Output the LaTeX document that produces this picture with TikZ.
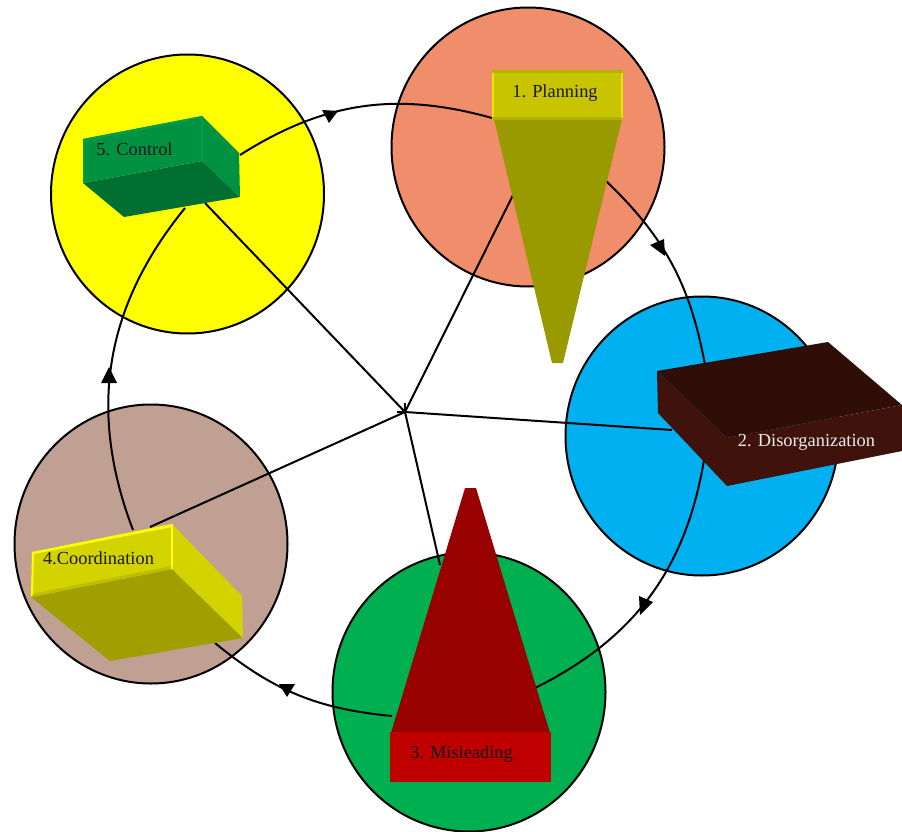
\documentclass[tikz,border=0pt]{standalone}
\usepackage{fontspec}
\setmainfont{Liberation Serif}
\usetikzlibrary{shapes.geometric, positioning, calc}

\definecolor{planfront}{HTML}{C8C400}
\definecolor{planedge}{HTML}{E8E600}
\definecolor{plancone}{HTML}{999900}
\definecolor{distop}{HTML}{300E08}
\definecolor{disside}{HTML}{40120C}
\definecolor{misfront}{HTML}{C00000}
\definecolor{miscone}{HTML}{990000}
\definecolor{cofront}{HTML}{D3D300}
\definecolor{coedge}{HTML}{FFFF00}
\definecolor{cobottom}{HTML}{A09E00}
\definecolor{ctfront}{HTML}{009242}
\definecolor{ctedge}{HTML}{00A04A}
\definecolor{ctbottom}{HTML}{006F31}
\definecolor{ctrlfill}{HTML}{FFFF00}

\tikzset{
  stage/.style={draw=black, line width=2pt, ellipse, minimum width=273pt, minimum height=279pt, inner sep=0pt},
  link/.style={draw=black, line width=2pt},
  head/.style={fill=black},
  tag/.style={font=\fontsize{18.4}{22}\selectfont, inner sep=0pt}
}

\begin{document}
\begin{tikzpicture}[x=1pt, y=-1pt]
\useasboundingbox (0,0) rectangle (902,832);

% Stage circles
\node[stage, fill={rgb,255:red,240;green,141;blue,107}] (plan) at (528,147) {};
\node[stage, fill={rgb,255:red,0;green,176;blue,240}] (dis) at (702,436) {};
\node[stage, fill={rgb,255:red,0;green,176;blue,80}] (mis) at (469,692) {};
\node[stage, fill={rgb,255:red,192;green,160;blue,147}] (coord) at (151,544) {};
\node[stage, fill=ctrlfill] (ctrl) at (187.5,194) {};

% Spokes
\coordinate (hub) at (405,412);
\coordinate (sp1) at (513,195);
\coordinate (sp2) at (672,430);
\coordinate (sp3) at (440,565);
\coordinate (sp4) at (150,527);
\coordinate (sp5) at (205,203);
\draw[link] (hub) -- (sp1);
\draw[link] (hub) -- (sp2);
\draw[link] (hub) -- (sp3);
\draw[link] (hub) -- (sp4);
\draw[link] (hub) -- (sp5);
\draw[link] (hub) -- ++(0,-9);
\draw[link] (hub) -- ++(-8,0);

% Outer ring, one arc per step
\coordinate (a1) at (240,155);
\coordinate (b1) at (492,118);
\draw[link] (a1) to[bend left=24] (b1);
\fill[head] (322,110) -- (338,111) -- (329,123) -- cycle;

\coordinate (a2) at (605,180);
\coordinate (b2) at (705,365);
\draw[link] (a2) to[bend left=18] (b2);
\fill[head] (650,245) -- (664,239) -- (665,256) -- cycle;

\coordinate (a3) at (704,460);
\coordinate (b3) at (535,688);
\draw[link] (a3) to[bend left=27] (b3);
\fill[head] (639,596) -- (653,602) -- (640,615) -- cycle;

\coordinate (a4) at (392,716);
\coordinate (b4) at (215,643);
\draw[link] (a4) to[bend left=17] (b4);
\fill[head] (279,684) -- (295,684) -- (287,697) -- cycle;

\coordinate (a5) at (133,530);
\coordinate (b5) at (185,208);
\draw[link] (a5) to[bend left=30] (b5);
\fill[head] (109,367) -- (117,383) -- (101,383) -- cycle;

% 1. cone with box on top
\fill[plancone] (494,119) -- (622,119) -- (563,363) -- (552,363) -- cycle;
\fill[planfront] (492,70) rectangle (623,120);
\fill[planedge] (492,70) rectangle (494,118);
\fill[planedge] (621,70) rectangle (623,118);
\fill[planfront!90!black] (492,70) rectangle (623,73);
\fill[planfront!90!black] (493,117) rectangle (622,120);
\node[tag, text=black!90] (plantag) at (555,93.5) {1. Planning};

% 2. flat slab
\fill[distop] (657,371) -- (828,342) -- (902,405) -- (902,405) -- (727,438) -- cycle;
\fill[disside] (657,371) -- (727,438) -- (727,486) -- (658,413) -- cycle;
\fill[disside] (727,438) -- (902,405) -- (902,451) -- (727,486) -- cycle;
\node[tag, text=white!92!black] (distag) at (806.5,442.5) {2. Disorganization};

% 3. cone with box below
\fill[miscone] (391,733) -- (550,733) -- (476,488) -- (465,488) -- cycle;
\fill[misfront] (390,732) rectangle (551,782);
\node[tag, text=black!90] (mistag) at (461.5,754.5) {3. Misleading};

% 4. box seen from below
\fill[cobottom] (31,597) -- (172,569) -- (243,638) -- (110,661) -- cycle;
\fill[cofront] (172,524) -- (242,596) -- (243,638) -- (172,569) -- cycle;
\fill[cofront] (32,552) -- (172,524) -- (172,569) -- (31,597) -- cycle;
\fill[cofront!90!black] (31,597) -- (172,569) -- (172,566) -- (31,594) -- cycle;
\fill[coedge] (32,552) -- (172,524) -- (172,527) -- (34,554) -- (33,594) -- (31,597) -- cycle;
\fill[coedge] (171,524) rectangle (173,569);
\node[tag, text=black!90] (cotag) at (98.5,558.5) {4.Coordination};

% 5. box seen from below
\fill[ctbottom] (83,183) -- (202,161) -- (240,197) -- (124,217) -- cycle;
\fill[ctfront] (202,116) -- (239,153) -- (240,197) -- (202,161) -- cycle;
\fill[ctfront] (83,139) -- (202,116) -- (202,161) -- (83,183) -- cycle;
\fill[ctedge] (83,139) -- (202,116) -- (202,118) -- (85,141) -- (85,182) -- (83,183) -- cycle;
\fill[ctedge] (201,116) rectangle (203,161);
\node[tag, text=black!90] (cttag) at (134.5,149) {5. Control};
\end{tikzpicture}
\end{document}
